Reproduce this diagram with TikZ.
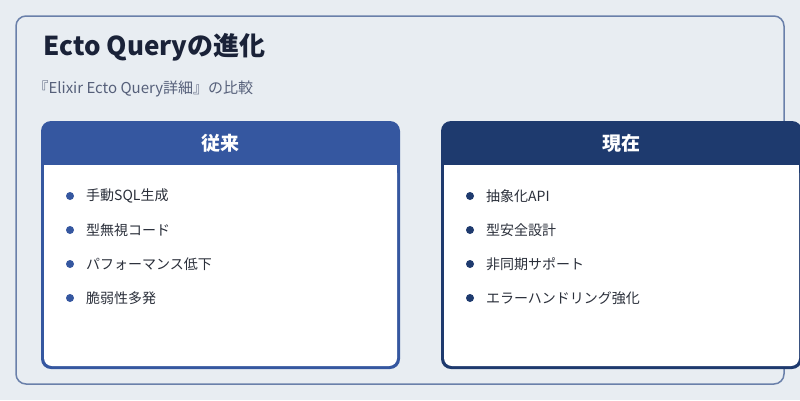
\documentclass[tikz,border=0pt]{standalone}
\usepackage{fontspec}
\setmainfont{Noto Sans CJK JP}
\definecolor{bg}{HTML}{E8EDF2}
\definecolor{frame}{HTML}{6A80AA}
\definecolor{lblue}{HTML}{3557A0}
\definecolor{dblue}{HTML}{1E3A6E}
\definecolor{ink}{HTML}{1A2238}
\definecolor{sub}{HTML}{56607A}
\definecolor{txt}{HTML}{2A2F3A}
\begin{document}
\begin{tikzpicture}[x=1pt,y=-1pt,
  item/.style={anchor=west,font=\fontsize{14}{16}\selectfont,text=txt,inner sep=0pt},
  hdr/.style={font=\bfseries\fontsize{19}{22}\selectfont,text=white}]
\useasboundingbox (0,0) rectangle (800,400);
\fill[bg] (0,0) rectangle (800,400);
\draw[frame,line width=1.5pt,rounded corners=10pt,fill=bg] (16,16) rectangle (784,384);
\node[anchor=west,font=\bfseries\fontsize{26}{30}\selectfont,text=ink] (title) at (40,47) {Ecto Queryの進化};
\node[anchor=west,font=\fontsize{15}{18}\selectfont,text=sub] (subt) at (30,89) {『Elixir Ecto Query詳細』の比較};
% left
\begin{scope}
\fill[lblue,rounded corners=10pt] (41,121) rectangle (400,369);
\fill[white,rounded corners=8pt] (44,165) rectangle (397,366);
\fill[white] (44,165) rectangle (397,180);
\node[hdr] (lh) at (220.5,143) {従来};
\foreach \t [count=\i] in {手動SQL生成,型無視コード,パフォーマンス低下,脆弱性多発}{
  \fill[lblue] (70,{162+34*\i}) circle (4);
  \node[item] (l\i) at (86,{162+34*\i}) {\t};}
\end{scope}
% right
\begin{scope}
\fill[dblue,rounded corners=10pt] (441,121) rectangle (802,369);
\fill[white,rounded corners=8pt] (444,165) rectangle (799,366);
\fill[white] (444,165) rectangle (799,180);
\node[hdr] (rh) at (621,143) {現在};
\foreach \t [count=\i] in {抽象化API,型安全設計,非同期サポート,エラーハンドリング強化}{
  \fill[dblue] (470,{162+34*\i}) circle (4);
  \node[item] (r\i) at (486,{162+34*\i}) {\t};}
\end{scope}
\end{tikzpicture}
\end{document}
